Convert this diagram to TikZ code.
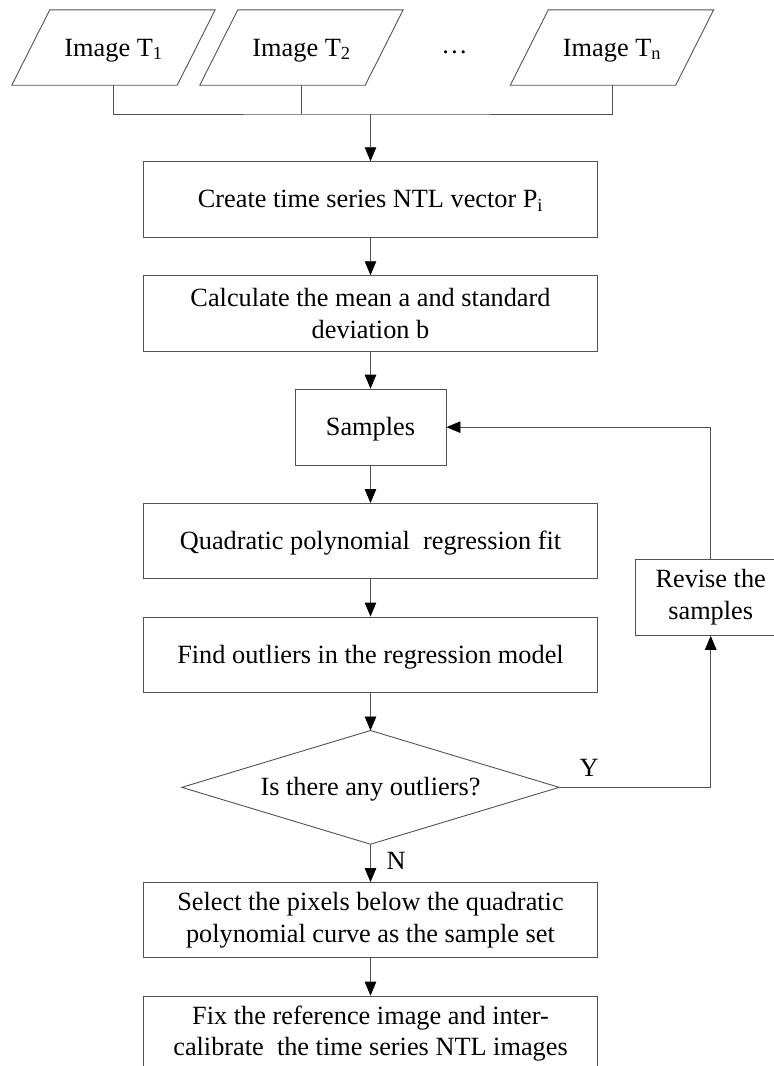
\documentclass[tikz,border=0pt]{standalone}
\usepackage{fontspec}
\setmainfont{Liberation Serif}
\usetikzlibrary{arrows.meta}
\begin{document}
\begin{tikzpicture}[x=1pt,y=-1pt,
  line/.style={draw=black!68, line width=0.9pt},
  arr/.style={line, -{Triangle[length=14pt,width=11.5pt,color=black]}},
  fnt/.style={font=\fontsize{26.3}{31.6}\selectfont, text=black, inner sep=0pt},
  onel/.style={fnt, text height=17.2pt, text depth=0pt},
  twol/.style={fnt, align=center},
  bigbox/.style={line, rectangle, minimum width=453.3pt, minimum height=75.3pt},
  smallbox/.style={line, rectangle, minimum width=151pt, minimum height=76pt},
  para/.style={onel, rectangle, minimum width=203pt, minimum height=75pt},
]
\useasboundingbox (0,0) rectangle (774,1066);
\clip (0,0) rectangle (774,1066);

% input images
\node[para] (p1) at (113.5,47.5) {Image T\textsubscript{1}};
\node[para] (p2) at (301.5,47.5) {Image T\textsubscript{2}};
\node[para] (p3) at (612,47.5) {Image T\textsubscript{n}};
\foreach \p in {p1,p2,p3}{
  \draw[line] ([xshift=38pt]\p.north west) -- (\p.north east)
     -- ([xshift=-38pt]\p.south east) -- (\p.south west) -- cycle;
}
\node[fnt] (dots) at (454.5,52) {\ldots};

\coordinate (m) at (370.5,114);

% process boxes
\node[bigbox, onel] (b1) at (370.5,199.35) {Create time series NTL vector P\textsubscript{i}};
\node[bigbox, twol] (b2) at (370.5,313.35) {Calculate the mean a and standard\\deviation b};
\node[smallbox, onel] (samp) at (370.5,427.15) {Samples};
\node[bigbox, onel] (b3) at (370.5,541.15) {Quadratic polynomial\ \ regression fit};
\node[bigbox, onel] (b4) at (370.5,654.65) {Find outliers in the regression model};
\node[onel, rectangle, minimum width=377pt, minimum height=113.3pt] (dia) at (370.5,787.35) {Is there any outliers?};
\draw[line] (dia.north) -- (dia.east) -- (dia.south) -- (dia.west) -- cycle;
\node[bigbox, twol] (b5) at (370.5,920.2) {Select the pixels below the quadratic\\polynomial curve as the sample set};
\node[bigbox, twol] (b6) at (370.5,1033.75) {Fix the reference image and inter-\\calibrate\ \ the time series NTL images};
\node[smallbox, twol] (rev) at (710.7,597.35) {Revise the\\samples};

\node[onel] (ylab) at (589,767.4) {Y};
\node[onel] (nlab) at (396,861) {N};

% connectors
\draw[line] (p1.south) |- (m) -| (p3.south);
\draw[line] (p2.south) -- (p2.south |- m);
\draw[arr] (m) -- (b1);
\draw[arr] (b1) -- (b2);
\draw[arr] (b2) -- (samp);
\draw[arr] (samp) -- (b3);
\draw[arr] (b3) -- (b4);
\draw[arr] (b4) -- (dia);
\draw[arr] (dia) -- (b5);
\draw[arr] (b5) -- (b6);
\draw[arr] (dia.east) -| (rev.south);
\draw[arr] (rev.north) |- (samp.east);
\end{tikzpicture}
\end{document}
